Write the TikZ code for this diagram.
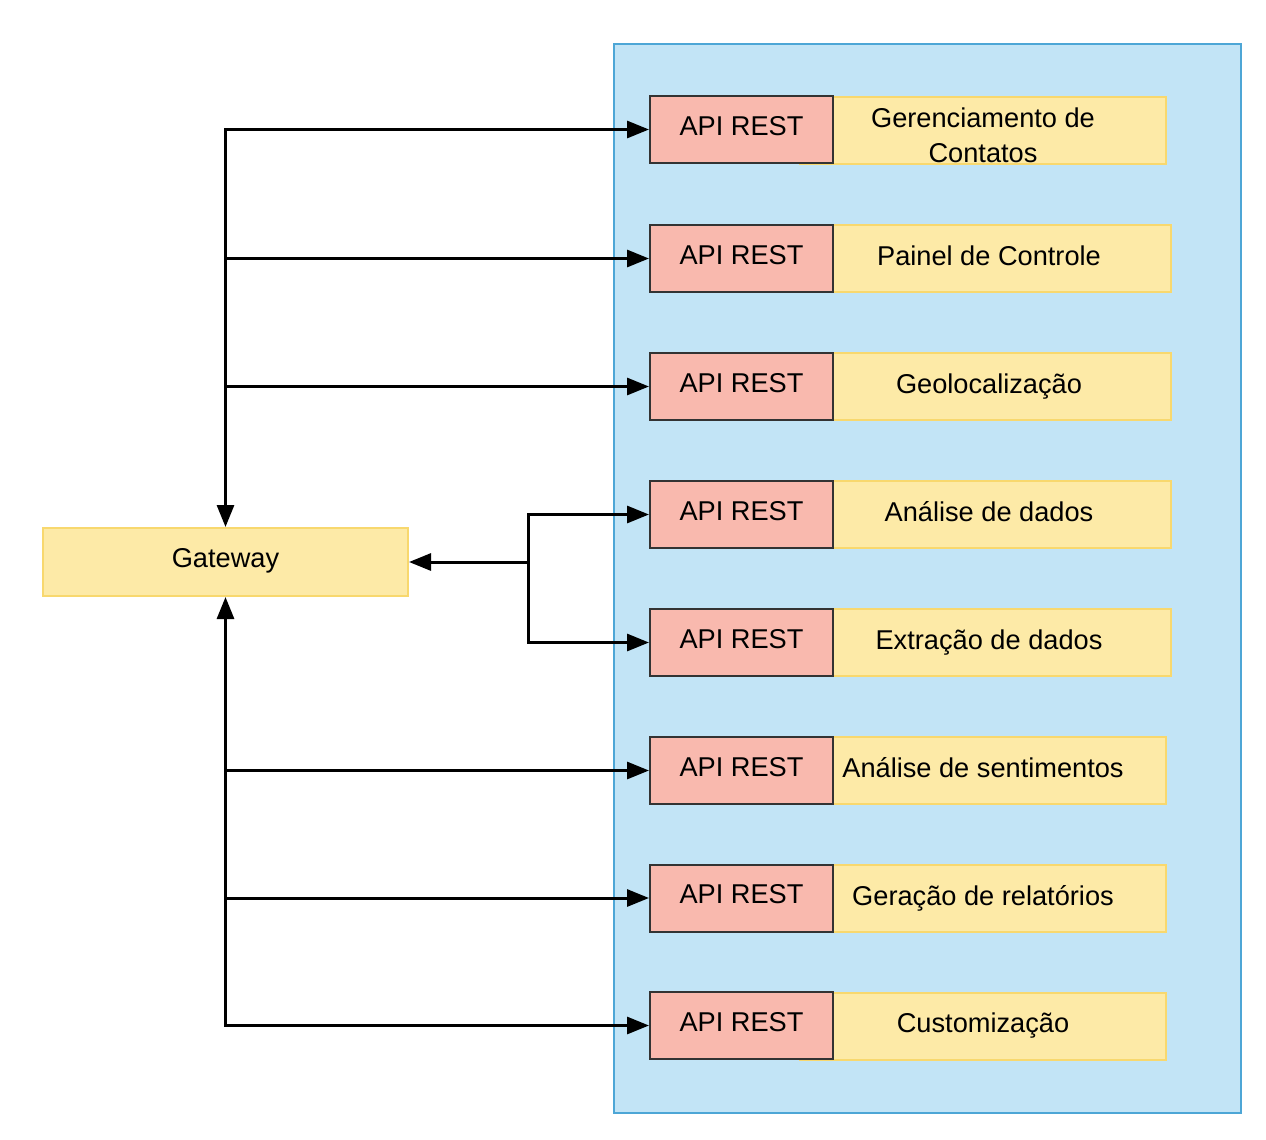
\documentclass[tikz,border=0pt]{standalone}
\usepackage{fontspec}
\setmainfont{Liberation Sans}
\usetikzlibrary{arrows.meta}
\definecolor{cbluefill}{HTML}{C2E4F6}
\definecolor{cblueline}{HTML}{4DA6D6}
\definecolor{cyelfill}{HTML}{FDEAA7}
\definecolor{cyelline}{HTML}{F8D86E}
\definecolor{credfill}{HTML}{F9B9AE}
\definecolor{credline}{HTML}{333333}
\begin{document}
\begin{tikzpicture}[x=1pt,y=-1pt,
  every node/.style={font=\fontsize{27.2}{35}\selectfont, inner sep=0pt, align=center},
  container/.style={draw=cblueline, fill=cbluefill, line width=2pt, minimum width=627pt, minimum height=1069pt},
  yelbox/.style={draw=cyelline, fill=cyelfill, line width=2pt, minimum width=366pt, minimum height=67pt, text height=13pt, text depth=0pt},
  yelboxw/.style={yelbox, minimum width=371pt},
  apibox/.style={draw=credline, fill=credfill, line width=2pt, minimum width=183pt, minimum height=67pt, text height=11pt, text depth=0pt},
  gwbox/.style={draw=cyelline, fill=cyelfill, line width=2pt, minimum width=365pt, minimum height=68pt, text height=11pt, text depth=0pt},
  arr/.style={line width=3pt, draw=black, -{Triangle[length=22pt,width=17pt]}},
  arrb/.style={line width=3pt, draw=black, {Triangle[length=22pt,width=17pt]}-{Triangle[length=22pt,width=17pt]}}
]
\useasboundingbox (0,0) rectangle (1266,1140);
\node[container] (box) at (927.5,578.5) {};

% yellow service boxes (behind)
\node[yelbox, text height=63pt, text depth=0pt]  (y1) at (983,130.5) {Gerenciamento de\\Contatos};
\node[yelboxw] (y2) at (985.5,258.5) {\hspace*{7pt}Painel de Controle};
\node[yelboxw] (y3) at (985.5,386.5) {\hspace*{7pt}Geolocalização};
\node[yelboxw] (y4) at (985.5,514.5) {\hspace*{7pt}Análise de dados};
\node[yelboxw] (y5) at (985.5,642.5) {\hspace*{7pt}Extração de dados};
\node[yelbox]  (y6) at (983,770.5) {Análise de sentimentos};
\node[yelbox]  (y7) at (983,898.5) {Geração de relatórios};
\node[yelbox]  (y8) at (983,1026) {Customização};

% red API boxes
\node[apibox] (r1) at (741.5,129.5) {API REST};
\node[apibox] (r2) at (741.5,258.5) {API REST};
\node[apibox] (r3) at (741.5,386.5) {API REST};
\node[apibox] (r4) at (741.5,514.5) {API REST};
\node[apibox] (r5) at (741.5,642.5) {API REST};
\node[apibox] (r6) at (741.5,770.5) {API REST};
\node[apibox] (r7) at (741.5,898) {API REST};
\node[apibox] (r8) at (741.5,1025.5) {API REST};

% gateway
\node[gwbox] (gw) at (225.5,562) {Gateway};
\coordinate (mj) at (528,562);

% connectors
\draw[arrb] (r1.west) -| (gw.north);
\draw[arr] (gw.north |- r2.west) -- (r2.west);
\draw[arr] (gw.north |- r3.west) -- (r3.west);
\draw[arrb] (r8.west) -| (gw.south);
\draw[arr] (gw.south |- r6.west) -- (r6.west);
\draw[arr] (gw.south |- r7.west) -- (r7.west);
\draw[arrb] (r4.west) -| (mj) |- (r5.west);
\draw[arr] (mj) -- (gw.east);
\end{tikzpicture}
\end{document}
